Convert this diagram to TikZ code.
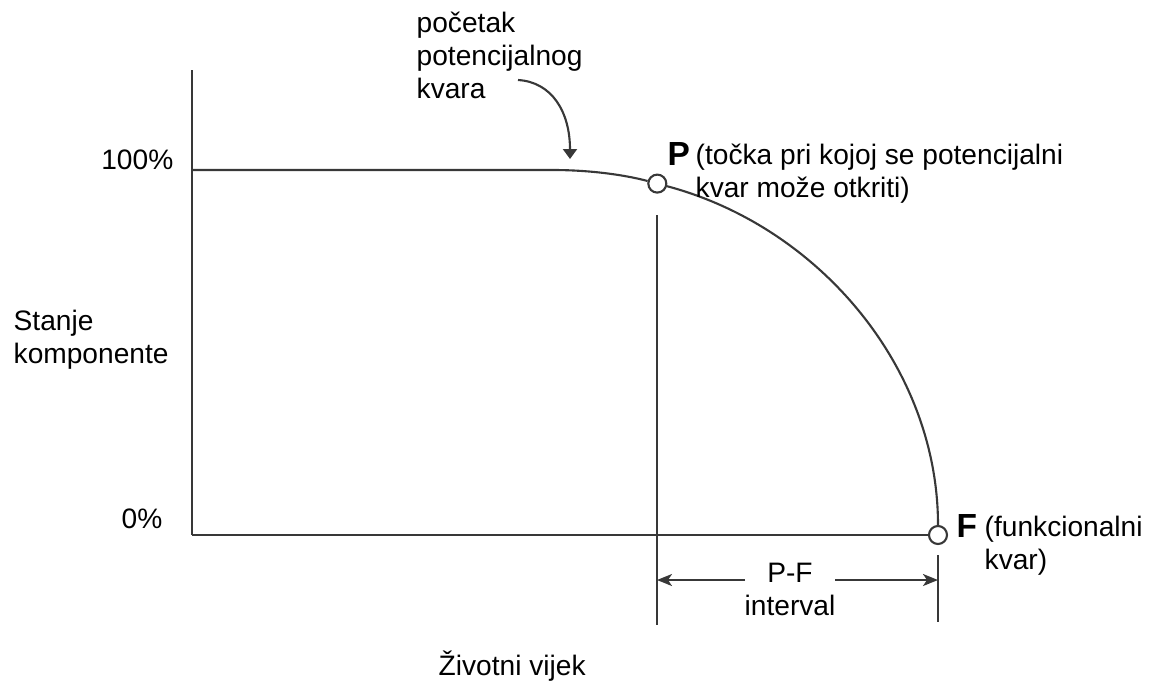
\documentclass[tikz,border=0pt]{standalone}
\usepackage{fontspec}
\setmainfont{Liberation Sans}
\usetikzlibrary{arrows.meta}

\begin{document}
\begin{tikzpicture}[x=0.01cm, y=-0.01cm,
    every node/.style={inner sep=0pt, font=\fontsize{8}{9.3}\selectfont},
    txt/.style={anchor=base west, align=left},
    bigtxt/.style={anchor=base west, font=\fontsize{9.5}{10}\selectfont\bfseries},
    ln/.style={line width=0.6pt, draw=black!78},
    dot/.style={circle, draw=black!78, line width=0.6pt, fill=white, minimum size=0.18cm}]
  \useasboundingbox (0,0) rectangle (1151,681);

  % axes
  \coordinate (ytop) at (192,70);
  \coordinate (orig) at (192,535);
  \coordinate (full) at (192,170);
  \coordinate (onset) at (553,170);
  \node[dot] (pnt) at (657.3,183.6) {};
  \node[dot] (fnt) at (938,535) {};
  \draw[ln] (ytop) to (orig);
  \draw[ln] (orig) to (fnt);

  % the curve
  \draw[ln] (full) -- (onset) .. controls (589.1,170) and (624.1,174.7) .. (pnt);
  \draw[ln] (pnt) .. controls (819.2,226.7) and (938,367.7) .. (fnt);

  % P-F interval
  \coordinate (ptop) at (657,215);
  \coordinate (pbot) at (657,625);
  \coordinate (ftop) at (938,555);
  \coordinate (fbot) at (938,622);
  \draw[ln] (ptop) to (pbot);
  \draw[ln] (ftop) to (fbot);
  \coordinate (arl) at (657,580);
  \coordinate (arr) at (938,580);
  \coordinate (gapl) at (745,580);
  \coordinate (gapr) at (835,580);
  \draw[ln, -{Stealth[length=0.15cm, width=0.12cm, inset=0.04cm]}] (gapl) to (arl);
  \draw[ln, -{Stealth[length=0.15cm, width=0.12cm, inset=0.04cm]}] (gapr) to (arr);
  \node[anchor=base, align=center] (pfint) at (790,615) {P-F\\interval};

  % labels
  \node[anchor=base east] (hund) at (174,169) {100\%};
  \node[anchor=base east] (zero) at (163,528) {0\%};
  \node[txt] (stanje) at (13,363) {Stanje\\komponente};
  \node[anchor=base west] (vijek) at (438,675) {Životni vijek};

  \node[txt] (pocetak) at (416,98) {početak\\potencijalnog\\kvara};
  \coordinate (kfrom) at (518,80);
  \coordinate (kto) at (570,159);
  \draw[ln, -{Triangle[length=0.1cm, width=0.14cm]}] (kfrom) .. controls (552,82) and (570,112) .. (kto);

  \node[bigtxt] (plbl) at (667,165) {P};
  \node[txt] (ptxt) at (695,197) {(točka pri kojoj se potencijalni\\kvar može otkriti)};
  \node[bigtxt] (flbl) at (956,537) {F};
  \node[txt] (ftxt) at (984,569) {(funkcionalni\\kvar)};
\end{tikzpicture}
\end{document}
